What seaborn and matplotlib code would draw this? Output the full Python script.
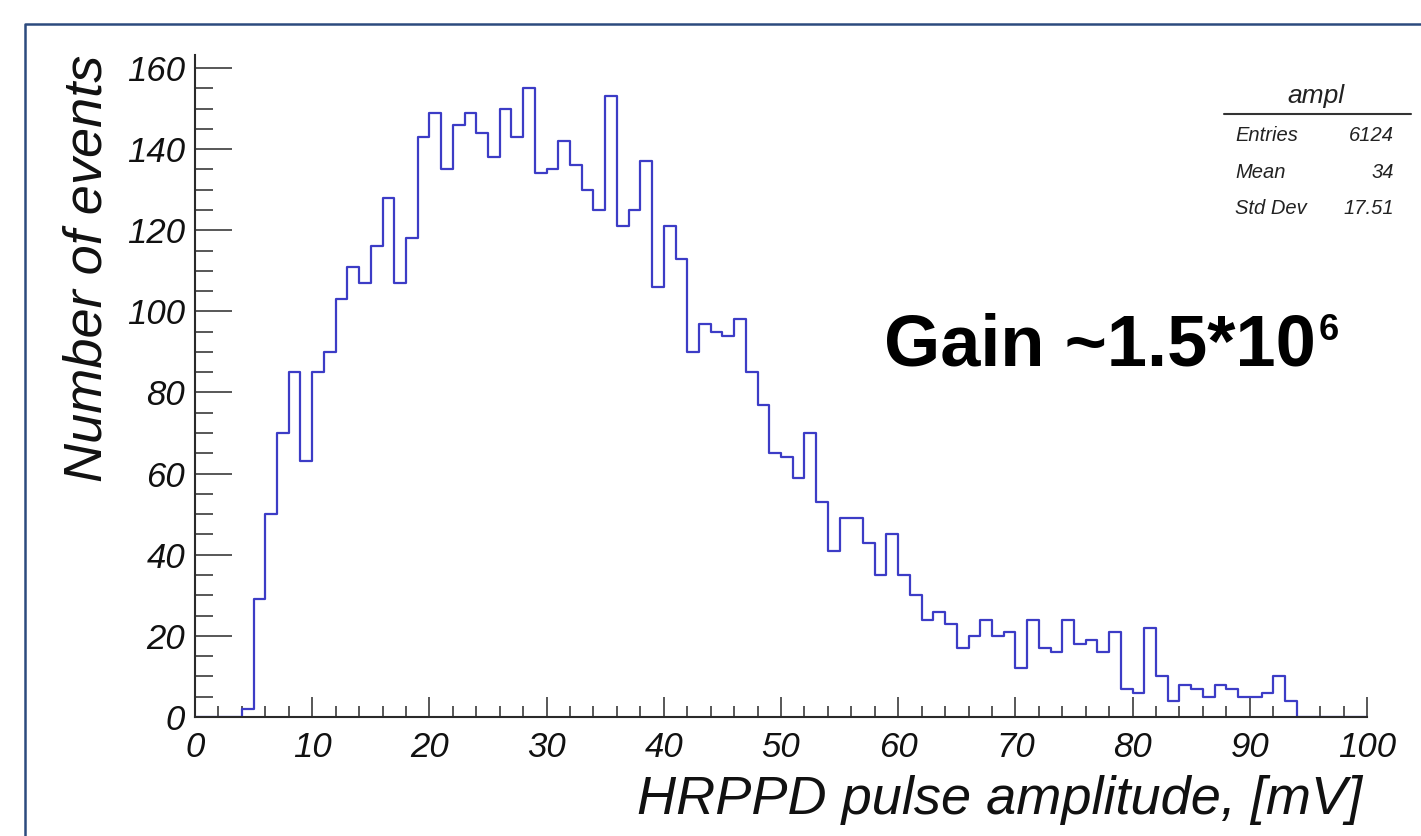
import numpy as np
import pandas as pd
import matplotlib
matplotlib.use("Agg")
import matplotlib.pyplot as plt
import seaborn as sns
from matplotlib.ticker import MultipleLocator
from matplotlib.lines import Line2D

# ---------------- data ----------------
bin_low = list(range(0, 100))          # lower edge of each 1 mV bin
counts = [0, 0, 0, 0, 2, 29, 50, 70, 85, 63,
          85, 90, 103, 111, 107, 116, 128, 107, 118, 143,
          149, 135, 146, 149, 144, 138, 150, 143, 155, 134,
          135, 142, 136, 130, 125, 153, 121, 125, 137, 106,
          121, 113, 90, 97, 95, 94, 98, 85, 77, 65,
          64, 59, 70, 53, 41, 49, 49, 43, 35, 45,
          35, 30, 24, 26, 23, 17, 20, 24, 20, 21,
          12, 24, 17, 16, 24, 18, 19, 16, 21, 7,
          6, 22, 10, 4, 8, 7, 5, 8, 7, 5,
          5, 6, 10, 4, 0, 0, 0, 0, 0, 0]
hist_name = "ampl"
stat_names = ["Entries", "Mean", "Std Dev"]
stat_values = ["6124", "34", "17.51"]
x_title = "HRPPD pulse amplitude, [mV]"
y_title = "Number of events"
note_main = "Gain ~1.5*10"
note_sup = "6"

# ---------------- style ----------------
sns.set_style("white")
plt.rcParams["font.family"] = ["Liberation Sans", "DejaVu Sans"]
plt.rcParams["font.style"] = "italic"

W, H = 1421, 836
fig = plt.figure(figsize=(W / 100, H / 100), dpi=100)
fig.patch.set_facecolor("white")

def fx(px):
    return px / W

def fy(py):
    return 1 - py / H

ax_l, ax_r, ax_b, ax_t = 195, 1367, 717, 55
ax = fig.add_axes([fx(ax_l), fy(ax_b), (ax_r - ax_l) / W, (ax_b - ax_t) / H])
ax.set_facecolor("white")

df = pd.DataFrame({"x": np.array(bin_low, dtype=float) + 0.5,
                   "n": np.array(counts, dtype=float)})
sns.histplot(data=df, x="x", weights="n", bins=len(bin_low), binrange=(0, 100),
             element="step", fill=False, color="#3C3CC6", linewidth=1.6,
             ax=ax, zorder=2)

ax.set_xlim(0, 100)
ax.set_ylim(0, 163.2)

axis_col = "#2a2a2a"
for s in ["top", "right"]:
    ax.spines[s].set_visible(False)
for s in ["left", "bottom"]:
    ax.spines[s].set_visible(True)
    ax.spines[s].set_color(axis_col)
    ax.spines[s].set_linewidth(1.5)
    ax.spines[s].set_zorder(3)

ax.xaxis.set_major_locator(MultipleLocator(10))
ax.xaxis.set_minor_locator(MultipleLocator(2))
ax.yaxis.set_major_locator(MultipleLocator(20))
ax.yaxis.set_minor_locator(MultipleLocator(5))

ax.tick_params(axis="x", which="major", bottom=True, top=False, direction="in",
               length=14.4, width=1.1, color=axis_col, pad=10, labelsize=25,
               labelcolor="#111111")
ax.tick_params(axis="x", which="minor", bottom=True, top=False, direction="in",
               length=7.9, width=1.1, color=axis_col)
ax.tick_params(axis="y", which="major", left=True, right=False, direction="in",
               length=26.6, width=1.1, color=axis_col, pad=7, labelsize=25,
               labelcolor="#111111")
ax.tick_params(axis="y", which="minor", left=True, right=False, direction="in",
               length=13, width=1.1, color=axis_col)

# axis titles (ROOT style: right-aligned at the axis end)
ax.set_xlabel(x_title, fontsize=39, style="italic", color="#111111")
ax.xaxis.label.set_ha("right")
ax.xaxis.label.set_va("baseline")
ax.xaxis.set_label_coords((1362 - ax_l) / (ax_r - ax_l), -(814 - ax_b) / (ax_b - ax_t))

ax.set_ylabel(y_title, fontsize=39, style="italic", color="#111111")
ax.yaxis.label.set_rotation_mode("anchor")
ax.yaxis.label.set_ha("right")
ax.yaxis.label.set_va("baseline")
ax.yaxis.set_label_coords(-(ax_l - 102) / (ax_r - ax_l), 1.0)

# slide frame
fig.add_artist(Line2D([fx(25), fx(25), 1.0], [0.0, fy(24), fy(24)],
                      transform=fig.transFigure, color="#2C4A7E", lw=1.8))

# statistics box
fig.text(fx(1316), fy(103), hist_name, ha="center", va="baseline",
         fontsize=19, style="italic", color="#222222")
fig.add_artist(Line2D([fx(1224), fx(1411)], [fy(114), fy(114)],
                      transform=fig.transFigure, color="#333333", lw=1.5))
row_base = [141, 178, 214]
for name, val, yb in zip(stat_names, stat_values, row_base):
    fig.text(fx(1235), fy(yb), name, ha="left", va="baseline",
             fontsize=14.5, style="italic", color="#222222")
    fig.text(fx(1394), fy(yb), val, ha="right", va="baseline",
             fontsize=14.5, style="italic", color="#222222")

# gain annotation
t_main = fig.text(fx(1100), fy(365), note_main, ha="center", va="baseline",
                  fontsize=52, fontweight="bold", style="normal", color="black",
                  family=["Liberation Sans", "DejaVu Sans"])
fig.canvas.draw()
bb = t_main.get_window_extent(fig.canvas.get_renderer())
fig.text((bb.x1 + 3) / W, fy(340), note_sup, ha="left", va="baseline",
         fontsize=26, fontweight="bold", style="normal", color="black",
         family=["Liberation Sans", "DejaVu Sans"])

fig.savefig("out.png", dpi=100, facecolor="white")
